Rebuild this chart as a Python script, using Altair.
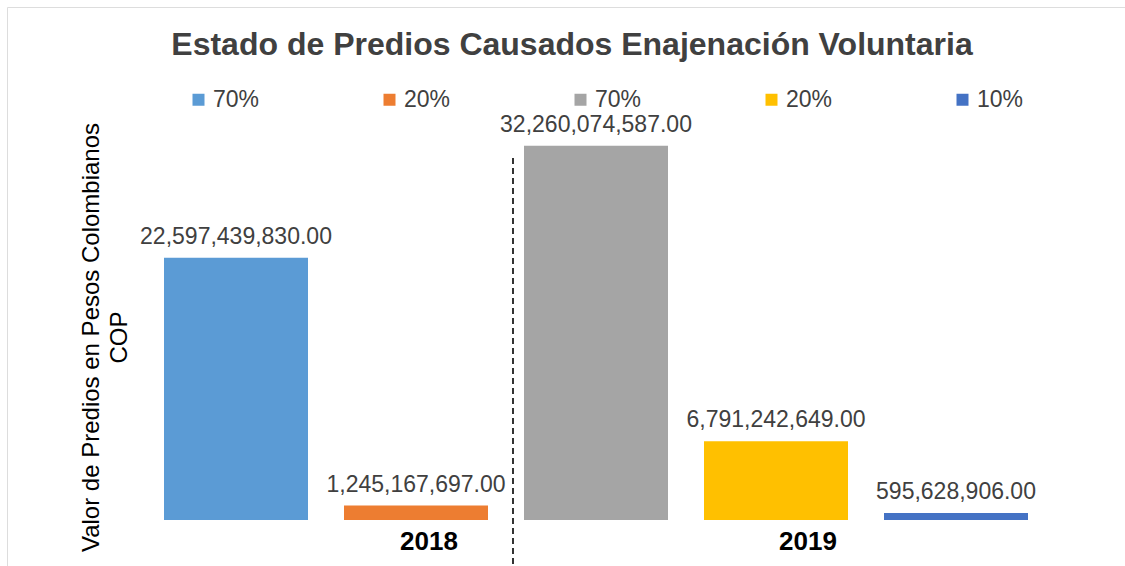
import altair as alt
import pandas as pd

categories = ["70% 2018", "20% 2018", "70% 2019", "20% 2019", "10% 2019"]
values = [22597439830.00, 1245167697.00, 32260074587.00, 6791242649.00, 595628906.00]
colors = ["#5B9BD5", "#ED7D31", "#A5A5A5", "#FFC000", "#4472C4"]
years = ["2018", "2019"]
year_anchor = ["20% 2018", "20% 2019"]

FONT = "Liberation Sans"
W, H = 1118, 559

df = pd.DataFrame({"cat": categories, "value": values})

xscale = alt.Scale(domain=categories, range=[139, 1039], paddingInner=0.2, paddingOuter=0.1)
yscale = alt.Scale(domain=[0, 35e9], range=[513, 107], nice=False, zero=True)

x_enc = alt.X("cat:N", scale=xscale, axis=None, sort=categories)

bars = alt.Chart(df).mark_bar().encode(
    x=x_enc,
    y=alt.Y("value:Q", scale=yscale,
            axis=alt.Axis(labels=False, ticks=False, domain=False, grid=False,
                          title=["Valor de Predios en Pesos Colombianos", "COP"],
                          titleFont=FONT, titleFontSize=24, titleFontWeight="normal",
                          titleColor="#000000", titleAngle=270, titleAlign="center",
                          titleBaseline="middle", titleLineHeight=28,
                          titleX=84, titleY=330)),
    color=alt.Color("cat:N", scale=alt.Scale(domain=categories, range=colors),
                    legend=alt.Legend(orient="none", legendX=180, legendY=81,
                                      direction="horizontal", columns=5,
                                      columnPadding=118, title=None,
                                      symbolType="square", symbolSize=144,
                                      symbolStrokeWidth=0, labelFont=FONT,
                                      labelFontSize=23, labelColor="#404040",
                                      labelOffset=3,
                                      labelExpr="split(datum.label, ' ')[0]")),
)

labels = alt.Chart(df).mark_text(font=FONT, fontSize=23, color="#404040",
                                 baseline="alphabetic", dy=-14).encode(
    x=x_enc,
    y=alt.Y("value:Q", scale=yscale),
    text=alt.Text("value:Q", format=",.2f"),
)

ydf1 = pd.DataFrame({"cat": [year_anchor[0]], "year": [years[0]]})
ydf2 = pd.DataFrame({"cat": [year_anchor[1]], "year": [years[1]]})
year1 = alt.Chart(ydf1).mark_text(font=FONT, fontSize=26, fontWeight="bold",
                                  color="#000000", baseline="middle", dx=13).encode(
    x=x_enc, y=alt.value(535), text="year:N")
year2 = alt.Chart(ydf2).mark_text(font=FONT, fontSize=26, fontWeight="bold",
                                  color="#000000", baseline="middle", dx=32).encode(
    x=x_enc, y=alt.value(535), text="year:N")

sep = alt.Chart(pd.DataFrame({"cat": ["70% 2019"]})).mark_rule(
    color="#000000", strokeWidth=1.6, strokeDash=[6, 4], xOffset=-11).encode(
    x=alt.X("cat:N", scale=xscale, axis=None, sort=categories, bandPosition=0),
    y=alt.value(151), y2=alt.value(H + 5))

chart = alt.layer(bars, labels, sep, year1, year2).properties(
    width=W, height=H,
    autosize=alt.AutoSizeParams(type="none"),
    padding={"left": 7, "top": 7, "right": 0, "bottom": 0},
    title=alt.TitleParams("Estado de Predios Causados Enajenación Voluntaria",
                          font=FONT, fontSize=32, fontWeight="bold", color="#404040",
                          anchor="middle", baseline="alphabetic", offset=0, dy=80, dx=6),
).configure_view(stroke="#D9D9D9", strokeWidth=2).configure(background="white")

chart.save("out.html", embed_options={"renderer": "svg", "actions": False})
